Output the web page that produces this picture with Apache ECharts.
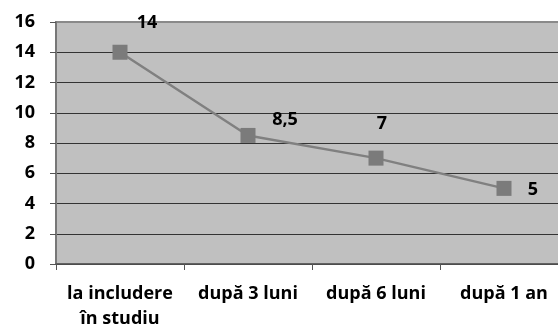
<!DOCTYPE html>
<html><head><meta charset="utf-8">
<script src="https://cdn.jsdelivr.net/npm/echarts@6/dist/echarts.min.js"></script>
<style>html,body{margin:0;padding:0;background:#fff}#c{width:558px;height:326px}</style>
</head><body><div id="c"></div>
<script>
const categories = ['la includere\nîn studiu', 'după 3 luni', 'după 6 luni', 'după 1 an'];
const values = [14, 8.5, 7, 5];
const valueLabels = ['14', '8,5', '7', '5'];
const yTicks = [0, 2, 4, 6, 8, 10, 12, 14, 16];
// label placement offsets (style)
const labelOffsets = [[27, -29], [37, -16], [6, -34], [29, 1]];

const chart = echarts.init(document.getElementById('c'), null, {renderer: 'canvas'});
const font = '"Open Sans", sans-serif';
chart.setOption({
  animation: false,
  grid: {left: 56, width: 512, top: 22, height: 242, show: true, outerBoundsMode: 'none', containLabel: false,
         backgroundColor: '#C0C0C0', borderColor: '#8a8a8a', borderWidth: 2},
  xAxis: {
    type: 'category', data: categories, boundaryGap: true,
    axisLine: {lineStyle: {color: '#555', width: 1.5}},
    axisTick: {show: true, length: 6, lineStyle: {color: '#555'}},
    axisLabel: {color: '#000', fontWeight: 'bold', fontSize: 18, fontFamily: font, margin: 17, lineHeight: 25, interval: 0}
  },
  yAxis: {
    type: 'value', min: yTicks[0], max: yTicks[yTicks.length - 1], interval: 2,
    axisLine: {show: true, lineStyle: {color: '#777', width: 2}},
    axisTick: {show: true, length: 6, lineStyle: {color: '#555'}},
    axisLabel: {color: '#000', fontWeight: 'bold', fontSize: 18, fontFamily: font, margin: 21},
    splitLine: {show: true, lineStyle: {color: ['#333', '#333', '#333', '#333', '#333', '#333', '#333', '#333', '#8a8a8a'], width: 1}}
  },
  series: [{
    type: 'line',
    data: values.map((v, i) => ({value: v, label: {offset: labelOffsets[i], formatter: valueLabels[i]}})),
    symbol: 'rect', symbolSize: 15,
    lineStyle: {color: '#808080', width: 2.5},
    itemStyle: {color: '#7b7b7b'},
    label: {show: true, position: 'inside', color: '#000', fontWeight: 'bold', fontSize: 18, fontFamily: font}
  }]
});
</script></body></html>
